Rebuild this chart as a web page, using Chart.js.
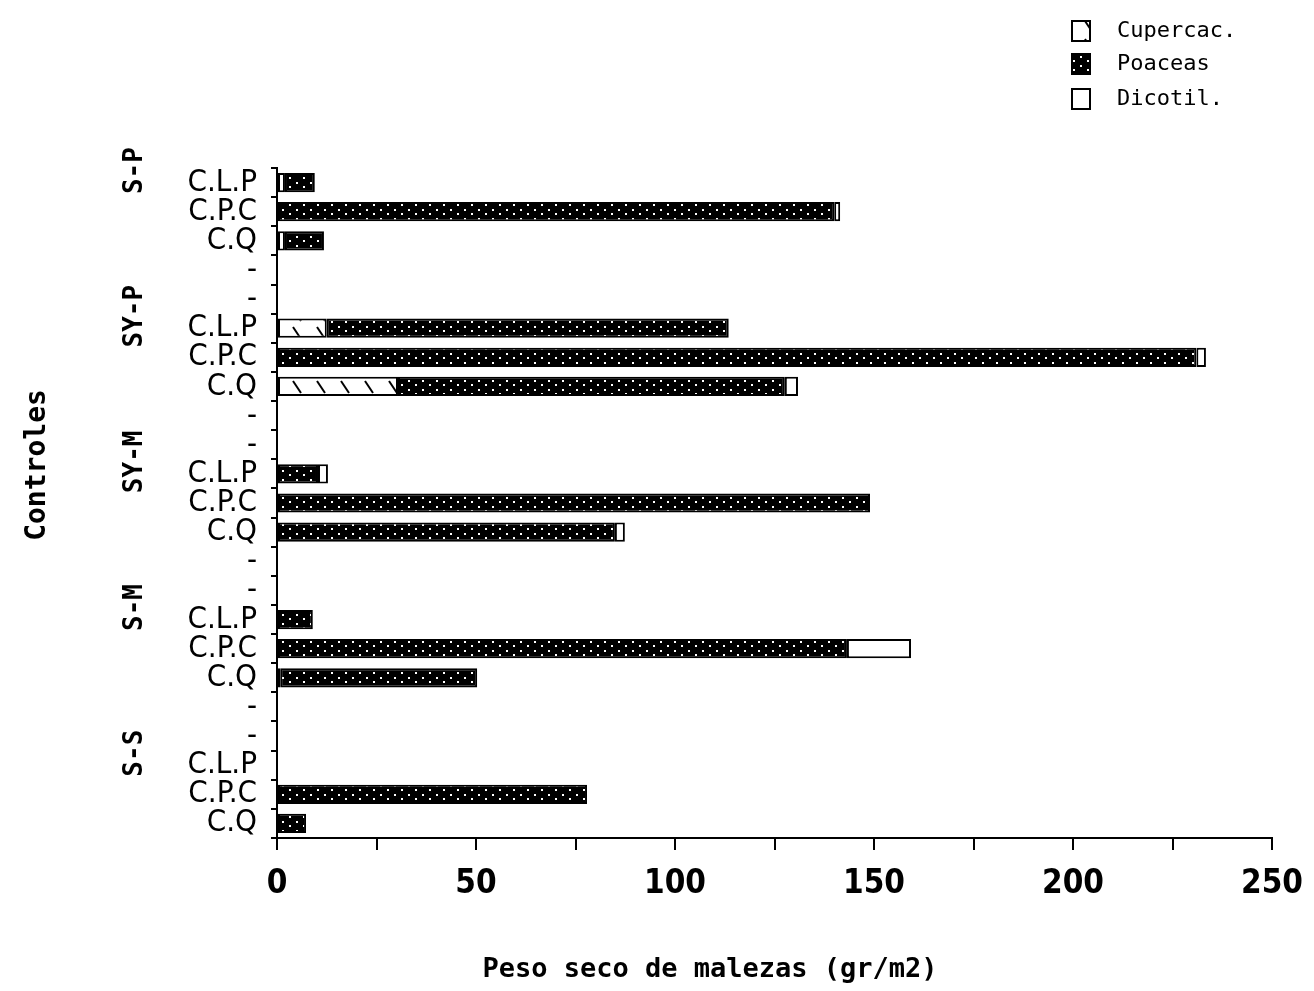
<!DOCTYPE html>
<html>
<head>
<meta charset="utf-8">
<script src="https://cdn.jsdelivr.net/npm/chart.js@4.4.1/dist/chart.umd.min.js"></script>
<style>
  html, body { margin: 0; padding: 0; background: #fff; }
  #wrap { width: 1314px; height: 991px; }
</style>
</head>
<body>
<div id="wrap"><canvas id="c" width="1314" height="991"></canvas></div>
<script>
// Rows from top to bottom: three controls per treatment, two spacer rows between treatments
const rowLabels = [
  'C.L.P', 'C.P.C', 'C.Q', '-', '-',
  'C.L.P', 'C.P.C', 'C.Q', '-', '-',
  'C.L.P', 'C.P.C', 'C.Q', '-', '-',
  'C.L.P', 'C.P.C', 'C.Q', '-', '-',
  'C.L.P', 'C.P.C', 'C.Q'
];
const groupNames = ['S-P', 'SY-P', 'SY-M', 'S-M', 'S-S'];
const groupFirstRow = [0, 5, 10, 15, 20];

// Dry weight (gr/m2) by weed type
const cupercac = [2, 0, 2, null, null,  12.5, 0, 30.4, null, null,  0, 0, 0, null, null,  0, 0, 0.8, null, null,  0, 0, 0];
const poaceas  = [7.5, 140, 9.8, null, null,  101, 231, 97.2, null, null,  10.3, 149, 84.9, null, null,  9, 143.2, 49.5, null, null,  0, 77.9, 7.3];
const dicotil  = [0, 1.5, 0, null, null,  0, 2.4, 3.3, null, null,  2.5, 0, 2.5, null, null,  0, 16.1, 0, null, null,  0, 0, 0];

const seriesNames = ['Cupercac.', 'Poaceas', 'Dicotil.'];
const xTickValues = [0, 50, 100, 150, 200, 250];
const xTitle = 'Peso seco de malezas (gr/m2)';
const yTitle = 'Controles';

const NARROW = '"Liberation Sans Narrow", "DejaVu Sans Condensed", "Roboto", sans-serif';
const MONO = '"DejaVu Sans Mono", "Liberation Mono", monospace';

// Fill patterns for the three weed types
function makeTile(w, h, draw) {
  const cv = document.createElement('canvas');
  cv.width = w; cv.height = h;
  const g = cv.getContext('2d');
  draw(g, w, h);
  return g.createPattern(cv, 'repeat');
}
const hatchFill = makeTile(24, 18, (g, w, h) => {
  g.fillStyle = '#fff'; g.fillRect(0, 0, w, h);
  g.strokeStyle = '#000'; g.lineWidth = 2;
  g.beginPath(); g.moveTo(5, 3); g.lineTo(13, 15); g.stroke();
});
const dotFill = makeTile(14, 9, (g, w, h) => {
  g.fillStyle = '#000'; g.fillRect(0, 0, w, h);
  g.fillStyle = '#fff';
  g.fillRect(2, 2, 2, 2);
  g.fillRect(9, 6, 2, 2);
});
const plainFill = '#fff';
const fills = [hatchFill, dotFill, plainFill];

// Treatment names beside each block of rows, plus the two axis titles
const annotationPlugin = {
  id: 'annotations',
  afterDraw(chart) {
    const ctx = chart.ctx;
    const y = chart.scales.y;
    ctx.save();
    ctx.fillStyle = '#000';
    ctx.textAlign = 'center';
    ctx.textBaseline = 'middle';
    ctx.font = 'bold 26px ' + MONO;
    groupNames.forEach((name, i) => {
      const py = y.getPixelForValue(groupFirstRow[i]) - 12;
      ctx.save();
      ctx.translate(135, py);
      ctx.rotate(-Math.PI / 2);
      ctx.fillText(name, 0, 0);
      ctx.restore();
    });
    ctx.font = 'bold 28px ' + MONO;
    ctx.save();
    ctx.translate(38, 465);
    ctx.rotate(-Math.PI / 2);
    ctx.fillText(yTitle, 0, 0);
    ctx.restore();
    ctx.font = 'bold 27px ' + MONO;
    ctx.fillText(xTitle, 710, 970);
    ctx.restore();
  }
};

// Stacked legend in the upper right corner
const legendPlugin = {
  id: 'cornerLegend',
  afterDraw(chart) {
    const ctx = chart.ctx;
    ctx.save();
    const x0 = 1072, ys = [31, 64, 99];
    chart.data.datasets.forEach((ds, i) => {
      const cy = ys[i];
      ctx.fillStyle = ds.backgroundColor;
      ctx.fillRect(x0, cy - 10, 18, 20);
      ctx.strokeStyle = '#000';
      ctx.lineWidth = 2;
      ctx.strokeRect(x0, cy - 10, 18, 20);
      ctx.fillStyle = '#000';
      ctx.font = '22px ' + MONO;
      ctx.textAlign = 'left';
      ctx.textBaseline = 'middle';
      ctx.fillText(ds.label, 1117, cy);
    });
    ctx.restore();
  }
};

const mkDataset = (i, data) => ({
  label: seriesNames[i],
  data: data,
  backgroundColor: fills[i],
  borderColor: '#000',
  borderWidth: 2,
  borderSkipped: false,
  barPercentage: 0.66,
  categoryPercentage: 1.0
});

new Chart(document.getElementById('c'), {
  type: 'bar',
  data: {
    labels: rowLabels,
    datasets: [mkDataset(0, cupercac), mkDataset(1, poaceas), mkDataset(2, dicotil)]
  },
  options: {
    indexAxis: 'y',
    responsive: false,
    animation: false,
    devicePixelRatio: 1,
    layout: { padding: { top: 168, left: 10, right: 42, bottom: 5 } },
    plugins: {
      legend: { display: false },
      tooltip: { enabled: false }
    },
    scales: {
      x: {
        stacked: true,
        min: 0,
        max: 250,
        afterFit(scale) {
          scale.height = 148;
          scale.paddingLeft = 0;
          scale.paddingRight = 0;
        },
        afterBuildTicks(scale) {
          const t = [];
          for (let v = 0; v <= 250; v += 25) t.push({ value: v });
          scale.ticks = t;
        },
        ticks: {
          autoSkip: false,
          maxRotation: 0,
          padding: 15,
          color: '#000',
          font: { family: NARROW, size: 33, weight: 'bold' },
          callback: (v) => xTickValues.includes(v) ? String(v) : ''
        },
        grid: { drawOnChartArea: false, tickLength: 12, color: '#000', lineWidth: 2 },
        border: { display: true, color: '#000', width: 2 }
      },
      y: {
        stacked: true,
        afterFit(scale) { scale.width = 267; },
        ticks: {
          autoSkip: false,
          padding: 14,
          color: '#000',
          font: { family: NARROW, size: 31 }
        },
        grid: { drawOnChartArea: false, offset: true, tickLength: 6, color: '#000', lineWidth: 2 },
        border: { display: true, color: '#000', width: 2 }
      }
    }
  },
  plugins: [annotationPlugin, legendPlugin]
});
</script>
</body>
</html>
